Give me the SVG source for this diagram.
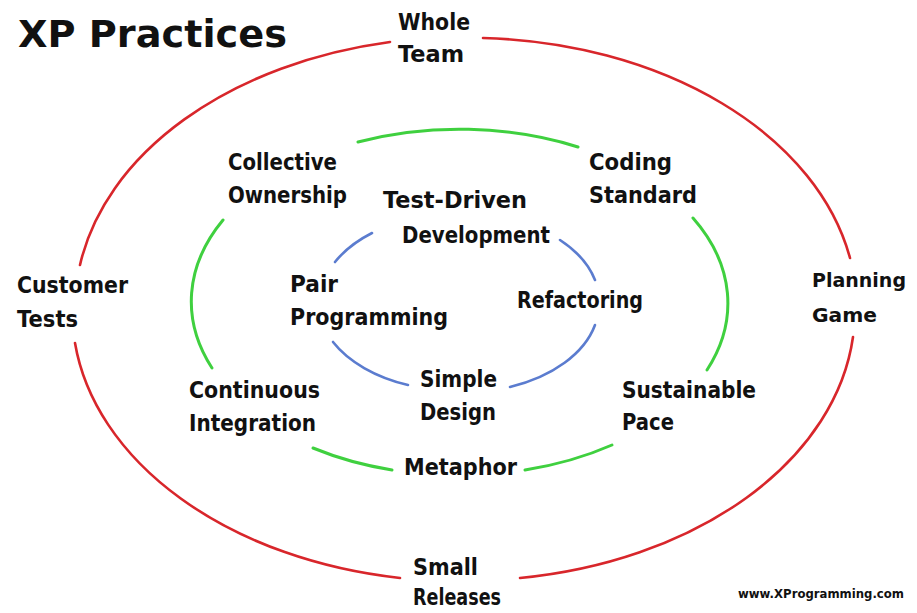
<svg xmlns="http://www.w3.org/2000/svg" width="917" height="613" viewBox="0 0 917 613">
<style>
.bg{fill:#ffffff}
.lbl{font-family:"DejaVu Sans","Liberation Sans",sans-serif;font-weight:bold;font-size:23px;fill:#111111}
.edge{font-size:20px}
.title{font-family:"DejaVu Sans","Liberation Sans",sans-serif;font-weight:bold;font-size:37px;fill:#111111}
.url{font-family:"DejaVu Sans","Liberation Sans",sans-serif;font-weight:bold;font-size:12px;fill:#111111}
.ring{fill:none;stroke-linecap:round}
.red{stroke:#d8262b;stroke-width:2.6}
.green{stroke:#3fd03f;stroke-width:3}
.blue{stroke:#5b7ccf;stroke-width:2.6}
</style>
<rect class="bg" x="0" y="0" width="917" height="613"/>
<g id="connectors">
  <path class="ring red" d="M 80 265 A 388 270 0 0 1 390 42"/>
  <path class="ring red" d="M 483 38 A 388 270 0 0 1 850 258"/>
  <path class="ring red" d="M 853 337 A 388 270 0 0 1 520 578"/>
  <path class="ring red" d="M 400 578 A 388 270 0 0 1 75 343"/>
  <path class="ring green" d="M 358 142 A 269 173 0 0 1 578 147"/>
  <path class="ring green" d="M 693 218 A 269 173 0 0 1 707 370"/>
  <path class="ring green" d="M 612 445 A 269 173 0 0 1 525 470"/>
  <path class="ring green" d="M 392 470 A 269 173 0 0 1 313 448"/>
  <path class="ring green" d="M 212 368 A 269 173 0 0 1 223 220"/>
  <path class="ring blue" d="M 335 262 A 138 88 0 0 1 372 233"/>
  <path class="ring blue" d="M 560 240 A 138 88 0 0 1 595 280"/>
  <path class="ring blue" d="M 595 325 A 138 88 0 0 1 510 387"/>
  <path class="ring blue" d="M 408 385 A 138 88 0 0 1 333 342"/>
</g>
<g id="title"><text class="title" x="18" y="47" textLength="269" lengthAdjust="spacingAndGlyphs">XP Practices</text></g>
<g id="whole-team">
  <text class="lbl" x="398" y="30" textLength="72" lengthAdjust="spacingAndGlyphs">Whole</text>
  <text class="lbl" x="398" y="62" textLength="66" lengthAdjust="spacingAndGlyphs">Team</text>
</g>
<g id="customer-tests">
  <text class="lbl" x="17" y="293" textLength="111" lengthAdjust="spacingAndGlyphs">Customer</text>
  <text class="lbl" x="17" y="327" textLength="61" lengthAdjust="spacingAndGlyphs">Tests</text>
</g>
<g id="planning-game">
  <text class="lbl edge" x="812" y="287" textLength="94" lengthAdjust="spacingAndGlyphs">Planning</text>
  <text class="lbl edge" x="812" y="322" textLength="65" lengthAdjust="spacingAndGlyphs">Game</text>
</g>
<g id="small-releases">
  <text class="lbl" x="413" y="575" textLength="65" lengthAdjust="spacingAndGlyphs">Small</text>
  <text class="lbl" x="413" y="605" textLength="88" lengthAdjust="spacingAndGlyphs">Releases</text>
</g>
<g id="collective-ownership">
  <text class="lbl" x="228" y="170" textLength="109" lengthAdjust="spacingAndGlyphs">Collective</text>
  <text class="lbl" x="228" y="203" textLength="119" lengthAdjust="spacingAndGlyphs">Ownership</text>
</g>
<g id="coding-standard">
  <text class="lbl" x="589" y="170" textLength="83" lengthAdjust="spacingAndGlyphs">Coding</text>
  <text class="lbl" x="589" y="203" textLength="108" lengthAdjust="spacingAndGlyphs">Standard</text>
</g>
<g id="test-driven-development">
  <text class="lbl" x="383" y="208" textLength="144" lengthAdjust="spacingAndGlyphs">Test-Driven</text>
  <text class="lbl" x="402" y="243" textLength="148" lengthAdjust="spacingAndGlyphs">Development</text>
</g>
<g id="pair-programming">
  <text class="lbl" x="290" y="292" textLength="48" lengthAdjust="spacingAndGlyphs">Pair</text>
  <text class="lbl" x="290" y="325" textLength="158" lengthAdjust="spacingAndGlyphs">Programming</text>
</g>
<g id="refactoring">
  <text class="lbl" x="517" y="308" textLength="126" lengthAdjust="spacingAndGlyphs">Refactoring</text>
</g>
<g id="simple-design">
  <text class="lbl" x="420" y="387" textLength="77" lengthAdjust="spacingAndGlyphs">Simple</text>
  <text class="lbl" x="420" y="420" textLength="76" lengthAdjust="spacingAndGlyphs">Design</text>
</g>
<g id="continuous-integration">
  <text class="lbl" x="189" y="398" textLength="131" lengthAdjust="spacingAndGlyphs">Continuous</text>
  <text class="lbl" x="189" y="431" textLength="127" lengthAdjust="spacingAndGlyphs">Integration</text>
</g>
<g id="sustainable-pace">
  <text class="lbl" x="622" y="398" textLength="134" lengthAdjust="spacingAndGlyphs">Sustainable</text>
  <text class="lbl" x="622" y="430" textLength="52" lengthAdjust="spacingAndGlyphs">Pace</text>
</g>
<g id="metaphor">
  <text class="lbl" x="404" y="475" textLength="113" lengthAdjust="spacingAndGlyphs">Metaphor</text>
</g>
<g id="url">
  <text class="url" x="738" y="598" textLength="166" lengthAdjust="spacingAndGlyphs">www.XProgramming.com</text>
</g>
</svg>
